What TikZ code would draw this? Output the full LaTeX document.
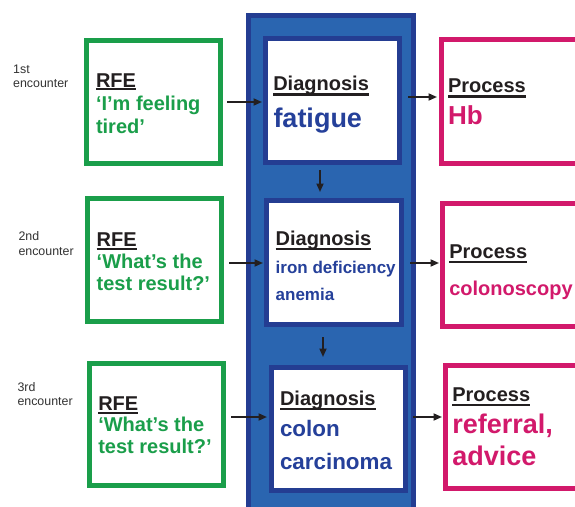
\documentclass[tikz,border=0pt]{standalone}
\usepackage{fontspec}
\setmainfont{Liberation Sans}
\usetikzlibrary{arrows.meta,calc}
\definecolor{rfegreen}{HTML}{1A9E4A}
\definecolor{procred}{HTML}{D2196B}
\definecolor{colfill}{HTML}{2A65B0}
\definecolor{dkblue}{HTML}{243D92}
\definecolor{txtblue}{HTML}{25409A}
\definecolor{inkblack}{HTML}{231F20}
\definecolor{encgray}{HTML}{333333}
\tikzset{
  boxbase/.style={rectangle, draw, line width=5pt, fill=white, inner sep=0pt},
  rfebox/.style={boxbase, draw=rfegreen},
  diagbox/.style={boxbase, draw=dkblue},
  procbox/.style={boxbase, draw=procred},
  column/.style={rectangle, draw=dkblue, fill=colfill, line width=5pt, inner sep=0pt},
  arr/.style={draw=inkblack, line width=1.8pt, -{Triangle[length=8.5pt,width=7pt]}},
  txt/.style={inner sep=0pt, outer sep=0pt, anchor=base west, font=\bfseries},
  hdrtxt/.style={txt, text=inkblack, font=\bfseries\fontsize{20}{24}\selectfont},
  ulline/.style={draw=inkblack, line width=2.3pt},
  enc/.style={inner sep=0pt, anchor=base west, text=encgray, font=\fontsize{12.4}{14}\selectfont}
}
\newcommand\mkhdr[5]{%
  \node[hdrtxt] (#1) at (#2,#3) {#4};
  \draw[ulline] ([yshift=-#5pt]#1.base west) -- ([yshift=-#5pt]#1.base east);}
\begin{document}
\begin{tikzpicture}[x=1pt,y=-1pt]
\useasboundingbox (0,0) rectangle (575,506);
\clip (0,0) rectangle (575,506);
\fill[white] (0,0) rectangle (575,506);

% blue column
\node[column, minimum width=165pt, minimum height=502pt] (col) at (331,266.5) {};

% RFE boxes
\node[rfebox, minimum width=134pt, minimum height=123pt] (g1) at (153.5,102) {};
\node[rfebox, minimum width=134pt, minimum height=123pt] (g2) at (154.5,260) {};
\node[rfebox, minimum width=134pt, minimum height=122pt] (g3) at (156.5,424.5) {};

% Diagnosis boxes
\node[diagbox, minimum width=134pt, minimum height=124pt] (d1) at (332.5,100.5) {};
\node[diagbox, minimum width=135pt, minimum height=124pt] (d2) at (334,262.5) {};
\node[diagbox, minimum width=134pt, minimum height=123pt] (d3) at (338.5,429) {};

% Process boxes
\node[procbox, minimum width=146pt, minimum height=124pt] (p1) at (514.5,101.5) {};
\node[procbox, minimum width=145pt, minimum height=123pt] (p2) at (515,265) {};
\node[procbox, minimum width=142pt, minimum height=123pt] (p3) at (516.5,427) {};

% encounter labels
\node[enc] (e1a) at (13,73) {1st};
\node[enc] (e1b) at (13,87) {encounter};
\node[enc] (e2a) at (18.3,240) {2nd};
\node[enc] (e2b) at (18.3,255) {encounter};
\node[enc] (e3a) at (17.3,391) {3rd};
\node[enc] (e3b) at (17.3,405.7) {encounter};

% Row 1 text
\mkhdr{h1}{96}{87.3}{RFE}{1.8}
\node[txt, text=rfegreen, font=\bfseries\fontsize{20}{24}\selectfont] (t1a) at (96,110) {‘I’m feeling};
\node[txt, text=rfegreen, font=\bfseries\fontsize{20}{24}\selectfont] (t1b) at (96,133) {tired’};
\mkhdr{h2}{273.3}{90}{Diagnosis}{4.5}
\node[txt, text=txtblue, font=\bfseries\fontsize{27}{30}\selectfont] (t2) at (273.5,127) {fatigue};
\mkhdr{h3}{448}{92.3}{Process}{4.2}
\node[txt, text=procred, font=\bfseries\fontsize{26}{30}\selectfont] (t3) at (448,124) {Hb};

% Row 2 text
\mkhdr{h4}{96.7}{246}{RFE}{3.3}
\node[txt, text=rfegreen, font=\bfseries\fontsize{20}{24}\selectfont] (t4a) at (96.7,268.3) {‘What’s the};
\node[txt, text=rfegreen, font=\bfseries\fontsize{20}{24}\selectfont] (t4b) at (96.7,290) {test result?’};
\mkhdr{h5}{275.7}{245}{Diagnosis}{4}
\node[txt, text=txtblue, font=\bfseries\fontsize{17}{20}\selectfont] (t5a) at (275.7,273.3) {iron deficiency};
\node[txt, text=txtblue, font=\bfseries\fontsize{17}{20}\selectfont] (t5b) at (275.7,300) {anemia};
\mkhdr{h6}{449.3}{258.3}{Process}{3.5}
\node[txt, text=procred, font=\bfseries\fontsize{20}{24}\selectfont] (t6) at (449.3,295) {colonoscopy};

% Row 3 text
\mkhdr{h7}{98.3}{410}{RFE}{2.7}
\node[txt, text=rfegreen, font=\bfseries\fontsize{20}{24}\selectfont] (t7a) at (98.3,431.7) {‘What’s the};
\node[txt, text=rfegreen, font=\bfseries\fontsize{20}{24}\selectfont] (t7b) at (98.3,453.3) {test result?’};
\mkhdr{h8}{280}{405}{Diagnosis}{3.8}
\node[txt, text=txtblue, font=\bfseries\fontsize{22.4}{26}\selectfont] (t8a) at (280,436.7) {colon};
\node[txt, text=txtblue, font=\bfseries\fontsize{22.4}{26}\selectfont] (t8b) at (280,469.3) {carcinoma};
\mkhdr{h9}{452.3}{401.7}{Process}{3.5}
\node[txt, text=procred, font=\bfseries\fontsize{27}{30}\selectfont] (t9a) at (452.3,433.3) {referral,};
\node[txt, text=procred, font=\bfseries\fontsize{27}{30}\selectfont] (t9b) at (452.3,465) {advice};

% arrows RFE -> Diagnosis
\draw[arr] ($(g1.east)+(4,0)$) -- ($(d1.west)+(-1,1.5)$);
\draw[arr] ($(g2.east)+(5,3)$) -- ($(d2.west)+(-1,0.5)$);
\draw[arr] ($(g3.east)+(5,-7.5)$) -- ($(d3.west)+(-2,-12)$);
% arrows Diagnosis -> Process
\draw[arr] ($(d1.east)+(6,-3.5)$) -- ($(p1.west)+(-2,-4.5)$);
\draw[arr] ($(d2.east)+(6,0.5)$) -- ($(p2.west)+(-1,-2)$);
\draw[arr] ($(d3.east)+(5,-12)$) -- ($(p3.west)+(-1,-10)$);
% arrows Diagnosis -> Diagnosis
\draw[arr] ($(d1.south)+(-12.5,5)$) -- ($(d2.north)+(-14,-6)$);
\draw[arr] ($(d2.south)+(-11,10)$) -- ($(d3.north)+(-15.5,-8)$);
\end{tikzpicture}
\end{document}
